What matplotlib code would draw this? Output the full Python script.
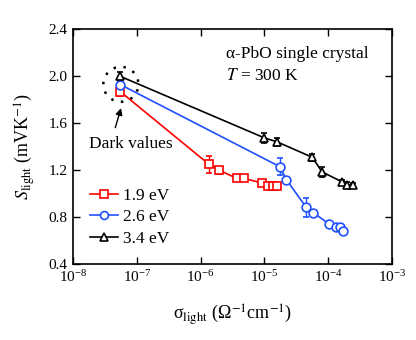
import matplotlib
matplotlib.use('Agg')
import matplotlib.pyplot as plt
import numpy as np
from matplotlib.patches import Ellipse

plt.rcParams['font.family'] = ['Liberation Serif', 'DejaVu Serif']
plt.rcParams['mathtext.fontset'] = 'stix'

# 1.9 eV (first point = dark value)
sig_r = [5.5e-8, 1.35e-6, 1.95e-6, 3.7e-6, 4.8e-6, 9.2e-6, 1.15e-5, 1.36e-5, 1.55e-5]
s_r = [1.87, 1.25, 1.20, 1.13, 1.13, 1.09, 1.066, 1.066, 1.066]
e_r = [0.04, 0.07, 0.03, 0.02, 0.02, 0.02, 0.02, 0.02, 0.02]

# 2.6 eV
sig_b = [5.5e-8, 1.74e-5, 2.2e-5, 4.5e-5, 5.8e-5, 1.03e-4, 1.32e-4, 1.52e-4, 1.7e-4]
s_b = [1.93, 1.23, 1.12, 0.884, 0.838, 0.742, 0.719, 0.717, 0.685]
e_b = [0.03, 0.07, 0.02, 0.08, 0.02, 0.02, 0.02, 0.02, 0.02]

# 3.4 eV
sig_k = [5.5e-8, 1.0e-5, 1.6e-5, 5.6e-5, 8.0e-5, 1.65e-4, 2.0e-4, 2.45e-4]
s_k = [2.0, 1.475, 1.44, 1.31, 1.185, 1.10, 1.075, 1.07]
e_k = [0.04, 0.04, 0.03, 0.03, 0.04, 0.02, 0.02, 0.02]

labels = ['1.9 eV', '2.6 eV', '3.4 eV']

fig = plt.figure(figsize=(4.16, 3.40), dpi=100)
ax = fig.add_axes([0.1755, 0.2235, 0.767, 0.69])

series = [(sig_r, s_r, e_r, 'red', 's'),
          (sig_b, s_b, e_b, '#1f4fff', 'o'),
          (sig_k, s_k, e_k, 'black', '^')]
handles = []
for x, y, e, c, m in series:
    h = ax.errorbar(x, y, yerr=e, color=c, marker=m, ms=6.3, mfc='white', mec=c, mew=1.2,
                    lw=1.2, capsize=2.5, elinewidth=1.0)
    handles.append(h[0])

ax.set_xscale('log')
ax.set_xlim(1e-8, 1e-3)
ax.set_ylim(0.4, 2.4)
ax.set_yticks([0.4, 0.8, 1.2, 1.6, 2.0, 2.4])
ax.set_yticklabels(['0.4', '0.8', '1.2', '1.6', '2.0', '2.4'])
ax.xaxis.set_minor_locator(matplotlib.ticker.NullLocator())
ax.tick_params(direction='in', top=True, right=True, length=5, width=1.0, labelsize=11, pad=4)
for sp in ax.spines.values():
    sp.set_linewidth(1.2)

ax.set_xlabel('σ$_{\\rm light}$ (Ω$^{-1}$cm$^{-1}$)', fontsize=13, labelpad=12)
ax.set_ylabel('$S_{\\rm light}$ (mVK$^{-1}$)', fontsize=13, labelpad=8)

ax.text(0.478, 0.895, 'α-PbO single crystal', transform=ax.transAxes, fontsize=12.5, va='center')
ax.text(0.478, 0.80, '$T$ = 300 K', transform=ax.transAxes, fontsize=12.5, va='center')

# dotted ring round the dark values
ax.add_patch(Ellipse((0.150, 0.766), 0.11, 0.149, transform=ax.transAxes, fill=False,
                     ls=(0, (1, 3)), lw=1.8, color='black'))
ax.annotate('', xy=(0.153, 0.676), xytext=(0.13, 0.57), xycoords='axes fraction',
            arrowprops=dict(arrowstyle='-|>', color='black', lw=1.0, mutation_scale=10))
ax.text(0.05, 0.51, 'Dark values', transform=ax.transAxes, fontsize=12.5, va='center')

ax.legend(handles, labels, loc='upper left', bbox_to_anchor=(0.016, 0.376), frameon=False,
          fontsize=12.5, handlelength=1.6, handletextpad=0.3, labelspacing=0.3,
          borderaxespad=0.3, markerscale=0.9)

plt.savefig('out.png', dpi=100, facecolor='white')
